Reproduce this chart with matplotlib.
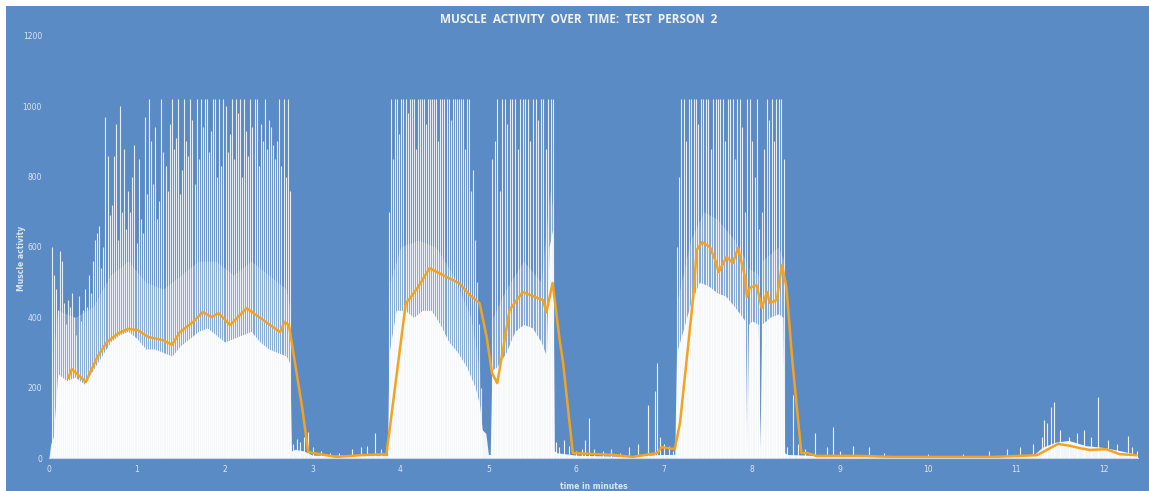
import matplotlib.pyplot as plt
import numpy as np
from matplotlib.patches import Rectangle

BG = "#5B8BC4"
ORANGE = "#F5A31F"
TXT = "#DCE5F2"

# moving average (orange line)
ma_t = [0.22, 0.26, 0.42, 0.55, 0.66, 0.79, 0.90, 1.01, 1.13, 1.19, 1.30, 1.40,
        1.49, 1.64, 1.75, 1.85, 1.93, 2.06, 2.25, 2.44, 2.63, 2.68, 2.73, 2.88,
        2.95, 3.27, 3.54, 3.84, 4.06, 4.11, 4.20, 4.33, 4.52, 4.67, 4.79, 4.90,
        4.98, 5.04, 5.10, 5.16, 5.24, 5.39, 5.62, 5.66, 5.73, 5.81, 5.85, 5.96,
        6.42, 6.64, 6.92, 6.97, 7.12, 7.18, 7.33, 7.37, 7.43, 7.52, 7.58, 7.62,
        7.71, 7.78, 7.84, 7.92, 7.94, 7.97, 8.05, 8.11, 8.17, 8.20, 8.28, 8.34,
        8.39, 8.46, 8.56, 8.63, 8.73, 9.22, 9.60, 10.74, 11.24, 11.48, 11.61,
        11.73, 11.84, 12.03, 12.18, 12.37]
ma_v = [228, 253, 216, 287, 330, 355, 367, 364, 344, 341, 335, 322,
        358, 387, 415, 401, 412, 378, 426, 392, 358, 387, 378, 145,
        17, 3, 8, 11, 440, 455, 486, 540, 515, 497, 463, 440,
        344, 242, 213, 299, 421, 472, 449, 415, 498, 336, 270, 14,
        9, 3, 14, 31, 25, 100, 458, 592, 614, 600, 563, 529,
        572, 554, 597, 515, 458, 483, 492, 427, 472, 441, 449, 549,
        486, 270, 14, 14, 6, 6, 3, 3, 8, 40, 35,
        28, 23, 25, 11, 8]

# dense white "body" of the raw signal (time, value)
body_pts = [(0.0, 0), (0.02, 40), (0.05, 60), (0.1, 240), (0.2, 220), (0.3, 230),
            (0.4, 210), (0.5, 250), (0.6, 290), (0.7, 330), (0.8, 350), (0.9, 360),
            (1.0, 340), (1.1, 310), (1.2, 310), (1.3, 300), (1.4, 290), (1.5, 320),
            (1.6, 340), (1.7, 360), (1.8, 370), (1.9, 350), (2.0, 330), (2.1, 340),
            (2.2, 350), (2.3, 360), (2.4, 330), (2.5, 310), (2.6, 300), (2.7, 290),
            (2.74, 270), (2.76, 20), (2.8, 25), (2.9, 20), (3.0, 8), (3.5, 8),
            (3.85, 8), (3.87, 300), (3.95, 420), (4.05, 420), (4.15, 400), (4.25, 420),
            (4.35, 420), (4.45, 380), (4.55, 330), (4.65, 300), (4.75, 260), (4.85, 200),
            (4.9, 150), (4.93, 80), (4.97, 70), (5.0, 10), (5.02, 10), (5.04, 250),
            (5.1, 260), (5.2, 300), (5.3, 360), (5.4, 380), (5.5, 370), (5.6, 330),
            (5.66, 290), (5.69, 600), (5.73, 650), (5.75, 20), (5.78, 15), (6.0, 8),
            (6.5, 5), (7.0, 10), (7.12, 10), (7.14, 300), (7.2, 350), (7.3, 440),
            (7.4, 500), (7.5, 490), (7.6, 470), (7.7, 460), (7.8, 430), (7.92, 390),
            (7.94, 20), (7.96, 380), (8.0, 390), (8.07, 380), (8.09, 30), (8.11, 380),
            (8.2, 400), (8.3, 410), (8.35, 400), (8.37, 15), (8.4, 10), (9.0, 5),
            (10.0, 5), (11.2, 8), (11.3, 30), (11.45, 45), (11.6, 50), (11.8, 35),
            (12.0, 30), (12.2, 20), (12.38, 10)]

# lighter band of mid-height spikes above the body (time, value)
haze_pts = [(0.03, 0), (0.05, 300), (0.1, 420), (0.3, 400), (0.5, 430), (0.7, 520),
            (0.9, 560), (1.1, 500), (1.3, 480), (1.5, 520), (1.7, 560), (1.9, 560),
            (2.1, 520), (2.3, 560), (2.5, 520), (2.7, 480), (2.74, 430), (2.75, 0),
            (3.86, 0), (3.88, 500), (4.0, 600), (4.2, 620), (4.4, 600), (4.6, 520),
            (4.8, 400), (4.9, 250), (4.93, 0), (5.03, 0), (5.05, 400), (5.2, 480),
            (5.4, 560), (5.6, 500), (5.7, 760), (5.74, 700), (5.75, 0), (7.13, 0),
            (7.15, 450), (7.3, 620), (7.45, 700), (7.6, 680), (7.8, 620), (7.93, 560),
            (7.94, 0), (7.96, 540), (8.08, 520), (8.09, 0), (8.11, 560), (8.3, 600),
            (8.36, 560), (8.37, 0)]

# spike peaks inside each burst of activity
burst_spans = [(0.03, 2.74), (3.87, 4.92), (5.04, 5.74), (7.14, 8.36)]
burst1_peaks = [600, 520, 480, 420, 590, 560, 440, 380, 450, 430, 470, 400, 350, 460,
                390, 420, 480, 430, 520, 470,
                560, 620, 640, 660, 540, 600, 970, 860, 690, 720, 860, 950, 620, 1000,
                700, 880, 650, 760, 700, 800, 890, 610,
                850, 680, 640, 970, 750, 1020, 900, 780, 940, 680, 730, 1020, 870, 830,
                760, 950, 1020, 880, 910, 1020, 750, 820,
                1020, 900, 860, 1020, 960, 780, 1020, 850, 1020, 940, 1020, 1020, 870,
                930, 1020, 1020, 800, 1020, 830, 1020, 1000, 870,
                920, 1020, 850, 1020, 980, 1020, 800, 1020, 930, 860, 1020, 940, 1020,
                1020, 830, 950, 900, 1020, 880, 960, 940, 890, 850, 900, 1020, 830,
                1020, 800, 1020, 760]
burst2_peaks = [700, 1020, 850, 1020, 1020, 920, 1020, 1020, 1020, 980, 1020, 1020,
                1020, 880, 1020, 1020, 1020, 1020, 950, 1020, 1020, 1020, 1020, 1020,
                900, 1020, 1020, 1020, 1020, 1020, 960, 1020, 1020, 1020, 1020, 1020,
                1020, 880, 1020, 1020, 760, 820, 620, 500, 380, 200]
burst3_peaks = [850, 900, 1020, 760, 1020, 1020, 950, 1020, 1020, 1020, 880, 1020,
                1020, 1020, 1020, 900, 1020, 1020, 960, 1020, 1020, 880, 1020, 1020,
                1020]
burst4_peaks = [600, 800, 1020, 1020, 900, 1020, 1020, 1020, 1020, 950, 1020, 1020,
                1020, 1020, 880, 1020, 1020, 1020, 1020, 1020, 900, 1020, 1020, 1020,
                850, 1020, 1020, 940, 700, 1020, 1020, 900, 800, 1020, 650, 700, 880,
                1020, 960, 1020, 900, 1020, 1020, 1020, 850]

# small spikes in the quiet stretches
noise_t = [2.78, 2.82, 2.86, 2.90, 2.95, 3.00, 3.10, 3.20, 3.30, 3.45, 3.55, 3.62,
           3.71, 3.78, 5.77, 5.80, 5.86, 5.92, 6.00, 6.06, 6.10, 6.14, 6.20, 6.30,
           6.40, 6.50, 6.60, 6.70, 6.81, 6.89, 6.92, 6.95, 7.00, 7.05, 7.10, 8.40,
           8.46, 8.52, 8.60, 8.72, 8.85, 8.92, 9.00, 9.15, 9.33, 9.50, 10.00, 10.40,
           10.70, 10.90, 11.05, 11.20, 11.30, 11.32, 11.36, 11.40, 11.43, 11.50,
           11.60, 11.70, 11.78, 11.85, 11.93, 12.05, 12.15, 12.28, 12.32, 12.38]
noise_v = [40, 55, 45, 60, 75, 30, 20, 15, 15, 25, 30, 35,
           70, 25, 45, 30, 50, 35, 20, 25, 50, 114, 25, 20,
           25, 15, 30, 40, 150, 190, 270, 60, 40, 35, 20, 30,
           180, 40, 25, 71, 30, 88, 20, 35, 31, 15, 10, 12,
           20, 25, 30, 40, 60, 108, 100, 145, 159, 80,
           60, 70, 80, 60, 173, 50, 40, 62, 30, 20]

fig = plt.figure(figsize=(11.49, 4.91), dpi=100, facecolor="white")
fig.patches.append(Rectangle((6 / 1149, 0), 1, 1 - 6 / 491, transform=fig.transFigure,
                             facecolor=BG, edgecolor="none", zorder=-10))
ax = fig.add_axes([0.0426, 0.0672, 0.9478, 0.8595])
ax.set_facecolor("none")

# raw signal
ht, hv = zip(*haze_pts)
ax.fill_between(ht, 0, hv, color="white", alpha=0.22, lw=0, zorder=2)
bt, bv = zip(*body_pts)
ax.fill_between(bt, 0, bv, color="white", alpha=0.93, lw=0, zorder=2)
for (t0, t1), peaks in zip(burst_spans, [burst1_peaks, burst2_peaks, burst3_peaks, burst4_peaks]):
    ax.vlines(np.linspace(t0, t1, len(peaks)), 0, peaks, color="white", lw=0.8,
              alpha=0.85, zorder=3)
ax.vlines(noise_t, 0, noise_v, color="white", lw=0.8, alpha=0.9, zorder=3)

# moving average
ax.plot(ma_t, ma_v, color=ORANGE, lw=1.8, zorder=5, solid_joinstyle="round")

ax.set_xlim(0, 12.39)
ax.set_ylim(0, 1200)
ax.set_xticks(range(0, 13))
ax.set_yticks(range(0, 1201, 200))
ax.tick_params(length=0, colors=TXT, labelsize=5.5, pad=5)
for s in ["top", "right", "left"]:
    ax.spines[s].set_visible(False)
ax.spines["bottom"].set_color("#C9D7EC")
ax.spines["bottom"].set_linewidth(0.8)

ax.set_xlabel("time in minutes", color=TXT, fontsize=5.5, fontweight="bold", labelpad=6)
fig.text(21 / 1149, 1 - 258 / 491, "Muscle activity", color=TXT, fontsize=5.5,
         fontweight="bold", rotation=90, ha="center", va="center")
fig.text(0.504, 0.961, "MUSCLE  ACTIVITY  OVER  TIME:  TEST  PERSON  2", color="#F2F2F2",
         fontsize=8.5, fontweight="bold", ha="center", va="center", family="Open Sans")

fig.savefig("out.png", dpi=100, facecolor="white")
